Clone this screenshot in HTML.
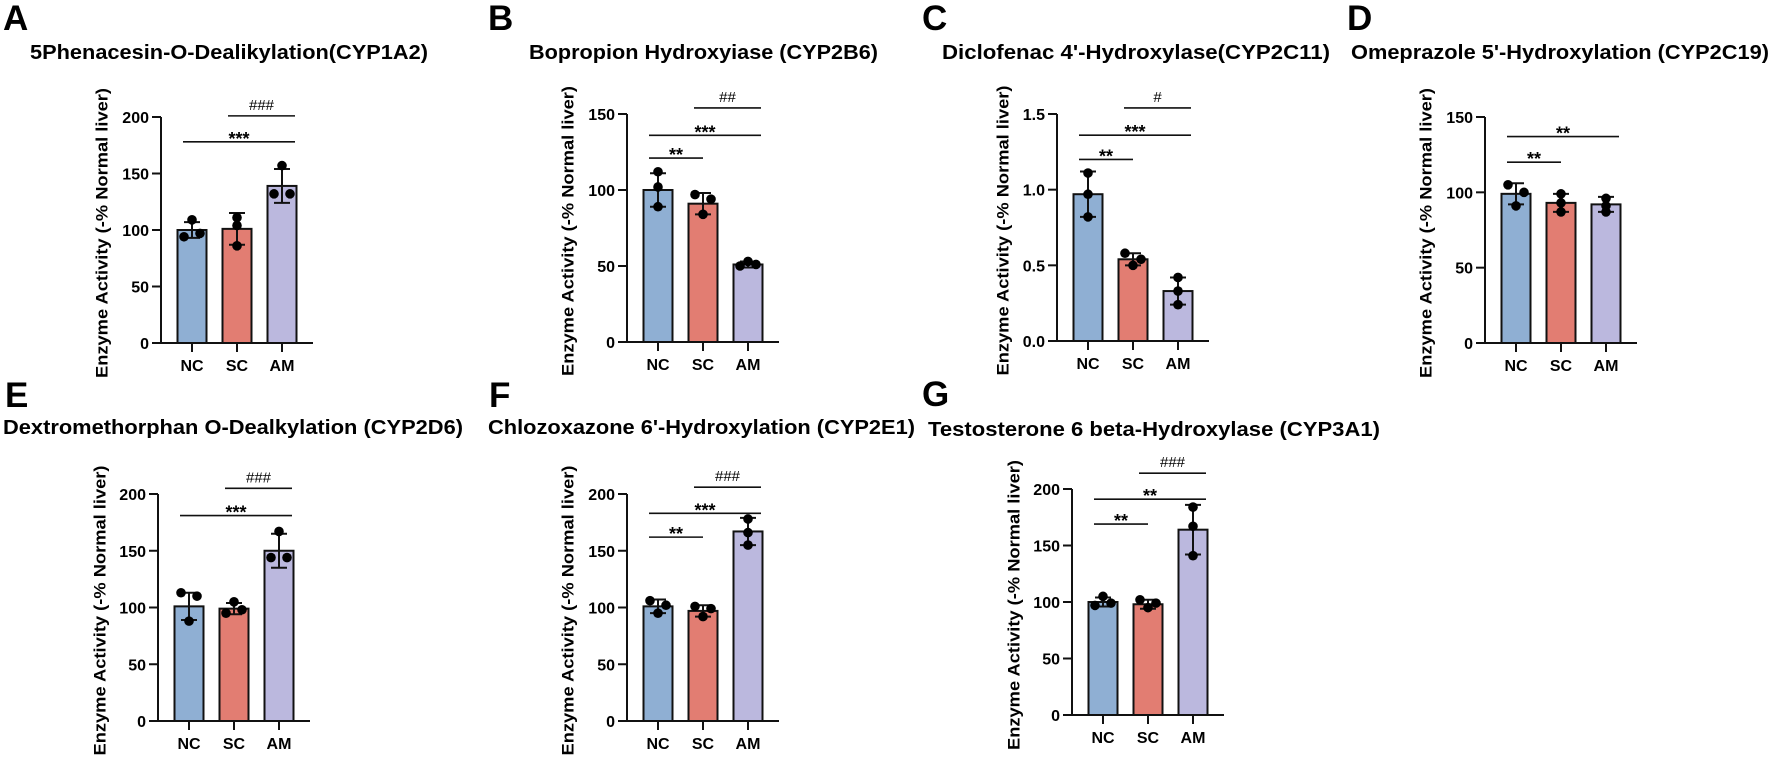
<!DOCTYPE html>
<html><head><meta charset="utf-8">
<style>
html,body{margin:0;padding:0;background:#fff;}
svg{display:block;font-family:"Liberation Sans",Arial,sans-serif;}
</style></head>
<body>
<svg id="fig" width="1772" height="758" viewBox="0 0 1772 758" xmlns="http://www.w3.org/2000/svg"></svg>
<script>
const groups = ['NC','SC','AM'];
const colors = ['#8FAFD3','#E27D72','#BBB8DE'];

const meansA = [100, 101, 139];
const sdA = [7, 14, 15];
const ptsA = [[109, 94, 97], [111, 104, 86], [157, 132, 132]];
const ticksA = [0, 50, 100, 150, 200];
const sigA = [[1, 2, 201, '###'], [0, 2, 178, '***']];

const meansB = [100, 91, 51];
const sdB = [11, 7, 2];
const ptsB = [[112, 102, 89], [97, 94, 84], [50, 53, 51]];
const ticksB = [0, 50, 100, 150];
const sigB = [[1, 2, 154, '##'], [0, 2, 136, '***'], [0, 1, 121, '**']];

const meansC = [0.97, 0.54, 0.33];
const sdC = [0.15, 0.04, 0.09];
const ptsC = [[1.11, 0.97, 0.82], [0.58, 0.54, 0.50], [0.42, 0.33, 0.24]];
const ticksC = [0, 0.5, 1.0, 1.5];
const sigC = [[1, 2, 1.54, '#'], [0, 2, 1.36, '***'], [0, 1, 1.2, '**']];

const meansD = [99, 93, 92];
const sdD = [7, 6, 5];
const ptsD = [[105, 100, 91], [99, 93, 87], [96, 91, 87]];
const ticksD = [0, 50, 100, 150];
const sigD = [[0, 2, 137, '**'], [0, 1, 120, '**']];

const meansE = [101, 99, 150];
const sdE = [12, 5, 15];
const ptsE = [[113, 110, 88], [105, 95, 98], [167, 144, 144]];
const ticksE = [0, 50, 100, 150, 200];
const sigE = [[1, 2, 205, '###'], [0, 2, 181, '***']];

const meansF = [101, 97, 167];
const sdF = [6, 5, 12];
const ptsF = [[106, 95, 102], [101, 92, 99], [178, 166, 155]];
const ticksF = [0, 50, 100, 150, 200];
const sigF = [[1, 2, 206, '###'], [0, 2, 183, '***'], [0, 1, 162, '**']];

const meansG = [100, 98, 164];
const sdG = [4, 4, 22];
const ptsG = [[105, 97, 99], [102, 95, 99], [184, 167, 141]];
const ticksG = [0, 50, 100, 150, 200];
const sigG = [[1, 2, 214, '###'], [0, 2, 191, '**'], [0, 1, 169, '**']];

const NS = 'http://www.w3.org/2000/svg';
const svg = document.getElementById('fig');
function mk(tag, attrs, parent, text) {
  const e = document.createElementNS(NS, tag);
  for (const k in attrs) e.setAttribute(k, attrs[k]);
  if (text !== undefined) e.textContent = text;
  (parent || svg).appendChild(e);
  return e;
}

const J0 = [0, -1, 1], JV = [0, 0, 0], JR = [-1, 1, 0], JL = [-1, 1, 0];
const panels = [
  {id:'a', letter:'A', lx:3, ly:30, title:'5Phenacesin-O-Dealikylation(CYP1A2)', tx:30, ty:59, tw:398,
   ax:161, y0:343, yTop:117, ylx:102, means:meansA, sd:sdA, pts:ptsA, ticks:ticksA, sig:sigA, dec:0, jit:[J0, JV, J0]},
  {id:'b', letter:'B', lx:488, ly:30, title:'Bopropion Hydroxyiase (CYP2B6)', tx:529, ty:59, tw:349,
   ax:627, y0:342, yTop:114, ylx:568, means:meansB, sd:sdB, pts:ptsB, ticks:ticksB, sig:sigB, dec:0, jit:[JV, [-1, 1, 0], [-1, 0, 1]]},
  {id:'c', letter:'C', lx:922, ly:30, title:"Diclofenac 4'-Hydroxylase(CYP2C11)", tx:942, ty:59, tw:388,
   ax:1057, y0:341, yTop:114, ylx:1003, means:meansC, sd:sdC, pts:ptsC, ticks:ticksC, sig:sigC, dec:1, jit:[JV, [-1, 1, 0], JV]},
  {id:'d', letter:'D', lx:1347, ly:30, title:"Omeprazole 5'-Hydroxylation (CYP2C19)", tx:1351, ty:59, tw:418,
   ax:1485, y0:343, yTop:117, ylx:1426, means:meansD, sd:sdD, pts:ptsD, ticks:ticksD, sig:sigD, dec:0, jit:[[-1, 1, 0], JV, JV]},
  {id:'e', letter:'E', lx:5, ly:407, title:'Dextromethorphan O-Dealkylation (CYP2D6)', tx:3, ty:434, tw:460,
   ax:158, y0:721, yTop:494, ylx:100, means:meansE, sd:sdE, pts:ptsE, ticks:ticksE, sig:sigE, dec:0, jit:[[-1, 1, 0], [0, -1, 1], [0, -1, 1]]},
  {id:'f', letter:'F', lx:489, ly:407, title:"Chlozoxazone 6'-Hydroxylation (CYP2E1)", tx:488, ty:434, tw:427,
   ax:627, y0:721, yTop:494, ylx:568, means:meansF, sd:sdF, pts:ptsF, ticks:ticksF, sig:sigF, dec:0, jit:[[-1, 0, 1], [-1, 0, 1], JV]},
  {id:'g', letter:'G', lx:922, ly:406, title:'Testosterone 6 beta-Hydroxylase (CYP3A1)', tx:928, ty:436, tw:452,
   ax:1072, y0:715, yTop:489, ylx:1014, means:meansG, sd:sdG, pts:ptsG, ticks:ticksG, sig:sigG, dec:0, jit:[[0, -1, 1], [-1, 0, 1], JV]}
];

panels.forEach(p => {
  const g = mk('g', {});
  
  
  const maxV = p.ticks[p.ticks.length - 1];
  const yS = v => p.y0 - (v / maxV) * (p.y0 - p.yTop);
  const xS = i => p.ax + 31 + i * 45;

  const L = mk('text', {x:p.lx, y:p.ly, 'font-size':35, 'font-weight':'bold', fill:'#000'}, g, p.letter);
  
  
  const T = mk('text', {x:p.tx, y:p.ty, 'font-size':20, 'font-weight':'bold', fill:'#000', textLength:p.tw, lengthAdjust:'spacingAndGlyphs'}, g, p.title);
  
  

  const ymid = (p.y0 + p.yTop) / 2 + 3;
  const YL = mk('text', {x:p.ylx, y:ymid, 'font-size':17, 'font-weight':'bold', 'text-anchor':'middle', 'dominant-baseline':'central', textLength:290, lengthAdjust:'spacingAndGlyphs', transform:'rotate(-90 ' + p.ylx + ' ' + ymid + ')'}, g, 'Enzyme Activity (-% Normal liver)');
  
  

  p.means.forEach((m, i) => {
    const cx = xS(i);
    const r = mk('rect', {x:cx - 14.5, y:yS(m), width:29, height:p.y0 - yS(m), fill:colors[i], stroke:'#111', 'stroke-width':2}, g);
    
    
    const hi = yS(m + p.sd[i]), lo = yS(m - p.sd[i]);
    const eb = mk('path', {d:'M' + cx + ' ' + hi + 'V' + lo + 'M' + (cx - 8) + ' ' + hi + 'H' + (cx + 8) + 'M' + (cx - 8) + ' ' + lo + 'H' + (cx + 8), stroke:'#111', 'stroke-width':2, fill:'none'}, g);
    
    
    p.pts[i].forEach((v, j) => {
      const c = mk('circle', {cx:cx + p.jit[i][j] * 8, cy:yS(v), r:4.8, fill:'#000'}, g);
      
      
    });
  });

  const ya = mk('line', {x1:p.ax, y1:p.y0, x2:p.ax, y2:p.yTop, stroke:'#111', 'stroke-width':2}, g);
  
  
  const xa = mk('line', {x1:p.ax - 1, y1:p.y0, x2:p.ax + 152, y2:p.y0, stroke:'#111', 'stroke-width':2}, g);
  
  
  p.ticks.forEach(t => {
    const y = yS(t);
    mk('line', {x1:p.ax - 9, y1:y, x2:p.ax, y2:y, stroke:'#111', 'stroke-width':2}, g);
    const tl = mk('text', {x:p.ax - 12, y:y + 6, 'font-size':16, 'font-weight':'bold', 'text-anchor':'end'}, g, t.toFixed(p.dec));
    
    
  });
  groups.forEach((gr, i) => {
    const cx = xS(i);
    mk('line', {x1:cx, y1:p.y0, x2:cx, y2:p.y0 + 9, stroke:'#111', 'stroke-width':2}, g);
    const xl = mk('text', {x:cx, y:p.y0 + 28, 'font-size':16, 'font-weight':'bold', 'text-anchor':'middle'}, g, gr);
    
    
  });

  p.sig.forEach(s => {
    const x1 = xS(s[0]) - 9;
    const x2 = xS(s[1]) + (s[1] === 2 ? 13 : 0);
    const y = yS(s[2]);
    const ln = mk('line', {x1:x1, y1:y, x2:x2, y2:y, stroke:'#111', 'stroke-width':1.6}, g);
    
    
    const isHash = s[3].indexOf('#') >= 0;
    const st = mk('text', {x:(x1 + x2) / 2, y:isHash ? y - 6 : y + 3, 'font-size':isHash ? 15 : 18, 'font-weight':isHash ? 'normal' : 'bold', 'text-anchor':'middle'}, g, s[3]);
    
    
  });
});
</script>
</body></html>
